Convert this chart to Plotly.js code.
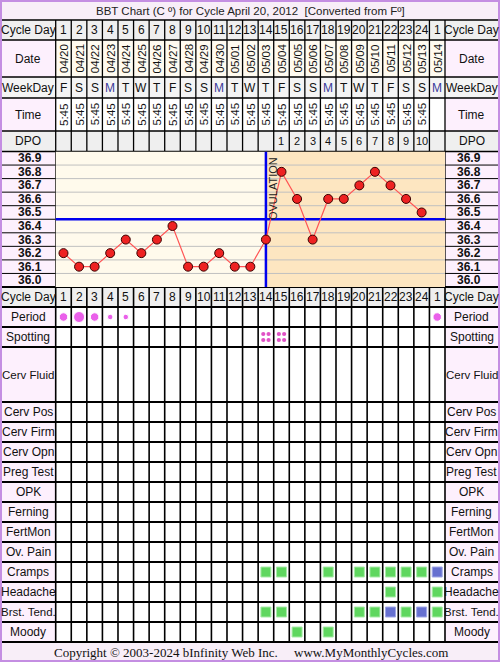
<!DOCTYPE html>
<html><head><meta charset="utf-8">
<script src="https://cdn.plot.ly/plotly-3.0.1.min.js"></script>
<style>html,body{margin:0;padding:0;background:#fff}#c{width:500px;height:662px}</style>
</head><body><div id="c"></div>
<script>
// ---------- DATA ----------
const cycleDayLabels = ['1','2','3','4','5','6','7','8','9','10','11','12','13','14','15','16','17','18','19','20','21','22','23','24','1'];
const dates = ['04/20','04/21','04/22','04/23','04/24','04/25','04/26','04/27','04/28','04/29','04/30','05/01','05/02','05/03','05/04','05/05','05/06','05/07','05/08','05/09','05/10','05/11','05/12','05/13','05/14'];
const weekdays = ['F','S','S','M','T','W','T','F','S','S','M','T','W','T','F','S','S','M','T','W','T','F','S','S','M'];
const times = ['5:45','5:45','5:45','5:45','5:45','5:45','5:45','5:45','5:45','5:45','5:45','5:45','5:45','5:45','5:45','5:45','5:45','5:45','5:45','5:45','5:45','5:45','5:45','5:45',''];
const dpo = ['','','','','','','','','','','','','','','1','2','3','4','5','6','7','8','9','10',''];
const temps = [36.2,36.1,36.1,36.2,36.3,36.2,36.3,36.4,36.1,36.1,36.2,36.1,36.1,36.3,36.8,36.6,36.3,36.6,36.6,36.7,36.8,36.7,36.6,36.5,null];
const tempTicks = [36.0,36.1,36.2,36.3,36.4,36.5,36.6,36.7,36.8,36.9];
const coverline = 36.45;
const ovulationDay = 14;
const periodDays = [1,2,3,4,5,25];
const periodFlow = ['medium','heavy','medium','light','light','medium'];
const spottingDays = [14,15];
const crampsDays = [14,15,18,20,21,22,23,24,25];
const crampsLevel = [1,1,1,1,1,1,1,1,2];
const headacheDays = [22,25];
const headacheLevel = [1,1];
const brstDays = [14,15,20,21,22,23,24,25];
const brstLevel = [1,1,1,1,2,1,2,1];
const moodyDays = [16,18];
const moodyLevel = [1,1];
const title = 'BBT Chart (C º) for Cycle April 20, 2012  [Converted from Fº]';
const copyright = 'Copyright © 2003-2024 bInfinity Web Inc.     www.MyMonthlyCycles.com';

// ---------- LAYOUT GEOMETRY ----------
const W=500,H=662,L=55.7,R=445,CW=(R-L)/25;
const px = p => 0.5 + (p-L)/CW;          // pixel -> day units
const xr = [px(0), px(W)];
const days = cycleDayLabels.map((_,i)=>i+1);
const chartTop=151.5, chartBot=287;
const FONT='Liberation Sans, Arial, sans-serif';
const PINK='#fdf0fd', GREY='#efefef';

const rows = [
  {key:'cd1', label:'Cycle Day', t:20, b:40, bg:GREY, lbg:GREY},
  {key:'date', label:'Date', t:40, b:77, bg:'#fffbf0', lbg:PINK},
  {key:'wd', label:'WeekDay', t:77, b:98, bg:'#f4f4f4', lbg:'#f4f4f4'},
  {key:'time', label:'Time', t:98, b:131, bg:'#ffffff', lbg:PINK},
  {key:'dpo', label:'DPO', t:131, b:151.5, bg:GREY, lbg:GREY},
  {key:'cd2', label:'Cycle Day', t:287, b:307, bg:GREY, lbg:GREY},
  {key:'period', label:'Period', t:307, b:327, bg:'#fff', lbg:PINK},
  {key:'spot', label:'Spotting', t:327, b:347, bg:'#fff', lbg:PINK},
  {key:'cf', label:'Cerv Fluid', t:347, b:402, bg:'#fff', lbg:PINK},
  {key:'cpos', label:'Cerv Pos', t:402, b:422, bg:'#fff', lbg:PINK},
  {key:'cfirm', label:'Cerv Firm', t:422, b:442, bg:'#fff', lbg:PINK},
  {key:'copn', label:'Cerv Opn', t:442, b:462, bg:'#fff', lbg:PINK},
  {key:'preg', label:'Preg Test', t:462, b:482, bg:'#fff', lbg:PINK},
  {key:'opk', label:'OPK', t:482, b:502, bg:'#fff', lbg:PINK},
  {key:'fern', label:'Ferning', t:502, b:522, bg:'#fff', lbg:PINK},
  {key:'fm', label:'FertMon', t:522, b:542, bg:'#fff', lbg:PINK},
  {key:'ovp', label:'Ov. Pain', t:542, b:562, bg:'#fff', lbg:PINK},
  {key:'cramps', label:'Cramps', t:562, b:582, bg:'#fff', lbg:PINK},
  {key:'head', label:'Headache', t:582, b:602, bg:'#fff', lbg:PINK},
  {key:'brst', label:'Brst. Tend.', t:602, b:622, bg:'#fff', lbg:PINK},
  {key:'moody', label:'Moody', t:622, b:642, bg:'#fff', lbg:PINK},
];
const rowOf = k => rows.find(r=>r.key===k);
const mid = k => { const r=rowOf(k); return (r.t+r.b)/2; };

const shapes=[], ann=[];
const rect=(x0,x1,y0,y1,fill,yref)=>shapes.push({type:'rect',xref:'x',yref:yref||'y',x0,x1,y0,y1,fillcolor:fill,line:{width:0},layer:'below'});
const line=(x0,x1,y0,y1,color,w,yref)=>shapes.push({type:'line',xref:'x',yref:yref||'y',x0,x1,y0,y1,line:{color,width:w},layer:'below'});

// title / copyright backgrounds
rect(px(0),px(W),0,20,'#f8eef8');
rect(px(0),px(W),642,H,'#f8eef8');
// row backgrounds
rows.forEach(r=>{
  rect(px(0),0.5,r.t,r.b,r.lbg);
  rect(25.5,px(W),r.t,r.b,r.lbg);
  rect(0.5,25.5,r.t,r.b,r.bg);
});
// chart label columns & plot areas
rect(px(0),0.5,chartTop,chartBot,PINK);
rect(25.5,px(W),chartTop,chartBot,PINK);
rect(0.5,ovulationDay,35.95,36.95,'#fffaec','y2');
rect(ovulationDay,25.5,35.95,36.95,'#fde6c1','y2');
// chart grid
for(let i=0;i<9;i++){
  const v=36.05+i*0.1;
  line(0.5,25.5,v,v,'#c0c0c0',1,'y2');
  line(px(0),0.5,v,v,'#000',1,'y2');
  line(25.5,px(W),v,v,'#000',1,'y2');
}
for(let d=1;d<25;d++) line(d+0.5,d+0.5,chartTop,chartBot,'#c0c0c0',1);
// table lines
const hLines=[20,40,77,98,131,151.5,287,307,327,347,402,422,442,462,482,502,522,542,562,582,602,622,642];
for(let d=0;d<=25;d++){
  line(d+0.5,d+0.5,20,chartTop,'#000',1.3);
  line(d+0.5,d+0.5,chartBot,642,'#000',1.6);
}
line(0.5,0.5,chartTop,chartBot,'#000',1.3);
line(25.5,25.5,chartTop,chartBot,'#000',1.3);
hLines.forEach(y=>line(px(0),px(W),y,y,'#000',y>=287?2:1.4));
// coverline & ovulation line
line(0.5,25.5,coverline,coverline,'#0000ee',2.5,'y2');
line(ovulationDay,ovulationDay,36.95,35.95,'#0000ee',2.5,'y2');
// outer border
shapes.push({type:'rect',xref:'paper',yref:'paper',x0:0.002,x1:0.998,y0:0.0015,y1:0.9985,line:{color:'#c48ee2',width:2},fillcolor:'rgba(0,0,0,0)',layer:'above'});

// ---------- TEXT ----------
const T=(x,y,text,o)=>ann.push(Object.assign({x,y,text,xref:'x',yref:'y',showarrow:false,xanchor:'center',yanchor:'middle',font:{family:FONT,size:12,color:'#111'}},o||{}));
T(px(250),10.5,title,{font:{family:FONT,size:11.5,color:'#222'}});
T(px(251),652,copyright,{font:{family:'Liberation Serif, Times New Roman, serif',size:13,color:'#111'}});
rows.forEach(r=>{
  const y=(r.t+r.b)/2;
  T(px(28),y,r.label,{font:{family:FONT,size:r.label.length>9?11.5:12,color:'#111'}});
  T(px(471.5),y,r.label,{font:{family:FONT,size:r.label.length>9?11.5:12,color:'#111'}});
});
days.forEach((d,i)=>{
  T(d,mid('cd1'),cycleDayLabels[i]);
  T(d,mid('cd2'),cycleDayLabels[i]);
  T(d,mid('date'),dates[i],{textangle:-90,font:{family:FONT,size:11.5,color:'#111'}});
  T(d,mid('wd'),weekdays[i],{font:{family:FONT,size:12,color:weekdays[i]==='M'?'#3a3a9a':'#111'}});
  if(times[i]) T(d,mid('time'),times[i],{textangle:-90,font:{family:FONT,size:11.5,color:'#111'}});
  if(dpo[i]) T(d,mid('dpo'),dpo[i],{font:{family:FONT,size:11,color:'#111'}});
});
tempTicks.forEach(v=>{
  T(px(44),v,v.toFixed(1),{yref:'y2',xanchor:'right',font:{family:FONT,size:12,color:'#111',weight:'bold'}});
  T(px(469),v,v.toFixed(1),{yref:'y2',font:{family:FONT,size:12,color:'#111',weight:'bold'}});
});
T(ovulationDay+0.45,36.68,'OVULATION',{yref:'y2',textangle:-90,font:{family:FONT,size:11,color:'#222'}});

// ---------- TRACES ----------
const traces=[];
traces.push({x:days,y:temps,yaxis:'y2',mode:'lines+markers',connectgaps:false,
  line:{color:'#ff5555',width:1.2},marker:{color:'#ee2222',size:9,line:{color:'#3a0000',width:1}},hoverinfo:'skip'});
const flowSize={heavy:11,medium:8.5,light:5.5};
traces.push({x:periodDays,y:periodDays.map(()=>mid('period')),mode:'markers',
  marker:{color:'#e21ee2',size:periodFlow.map(f=>flowSize[f])},hoverinfo:'skip'});
// spotting 2x2 dots
const sx=[],sy=[];
spottingDays.forEach(d=>{[-0.17,0.17].forEach(dx=>[-3,3].forEach(dy=>{sx.push(d+dx);sy.push(mid('spot')+dy);}));});
traces.push({x:sx,y:sy,mode:'markers',marker:{color:'#e052c6',size:4.2},hoverinfo:'skip'});
const lvlColor={1:'#5fd75f',2:'#6670d0'};
const lvlLine={1:'#a8eba8',2:'#a0a6e6'};
[['cramps',crampsDays,crampsLevel],['head',headacheDays,headacheLevel],['brst',brstDays,brstLevel],['moody',moodyDays,moodyLevel]].forEach(([k,ds,lv])=>{
  traces.push({x:ds,y:ds.map(()=>mid(k)),mode:'markers',
    marker:{symbol:'square',size:10,color:lv.map(l=>lvlColor[l]),line:{color:lv.map(l=>lvlLine[l]),width:1}},hoverinfo:'skip'});
});

const layout={width:W,height:H,margin:{l:0,r:0,t:0,b:0},paper_bgcolor:'#fff',plot_bgcolor:'rgba(0,0,0,0)',showlegend:false,
  xaxis:{range:xr,visible:false,fixedrange:true},
  yaxis:{range:[H,0],visible:false,domain:[0,1],fixedrange:true},
  yaxis2:{range:[35.95,36.95],domain:[(H-chartBot)/H,(H-chartTop)/H],visible:false,anchor:'x',fixedrange:true},
  shapes,annotations:ann};
Plotly.newPlot('c',traces,layout,{staticPlot:true,displayModeBar:false});
</script></body></html>
